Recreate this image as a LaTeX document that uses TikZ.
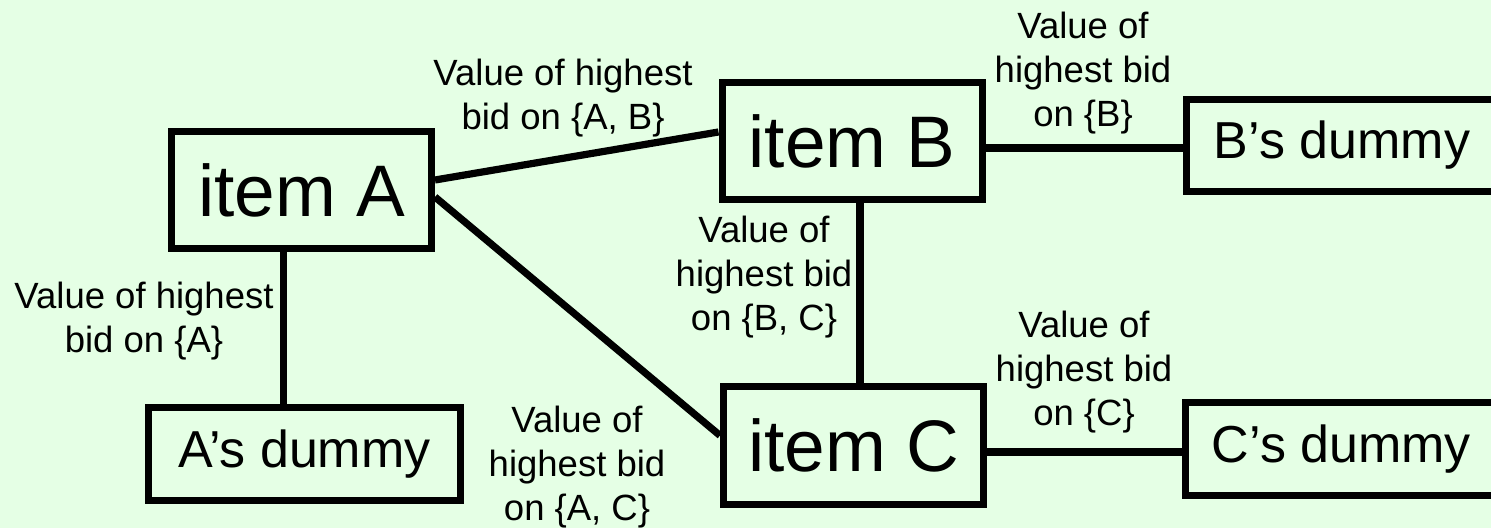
\documentclass[tikz,border=0pt]{standalone}
\usepackage{fontspec}
\setmainfont{Liberation Sans}
\usetikzlibrary{calc}
\definecolor{mygreen}{HTML}{E5FFE5}
\tikzset{
	itemnode/.style={
			rectangle,
			draw=black,
			line width=3.5pt,
			minimum width=130pt,
			minimum height=58.5pt,
			inner sep=0pt,
			font=\fontsize{36.5}{44}\selectfont
		},
	dummynode/.style={
			itemnode,
			minimum width=156pt,
			minimum height=46pt,
			font=\fontsize{26}{31}\selectfont
		},
	labelnode/.style={
			align=center,
			inner sep=0pt,
			font=\fontsize{18.25}{22}\selectfont
		},
	link/.style={
			line width=3.6pt
		}
}

\begin{document}
\begin{tikzpicture}[x=0.5pt, y=-0.5pt]
\fill[mygreen] (0,0) rectangle (1491,528);
\useasboundingbox (0,0) rectangle (1491,528);

\node[itemnode] (itemA) at (301.5,190)  { item A };
\node[itemnode] (itemB) at (852,141.5)  { item B };
\node[itemnode] (itemC) at (853.5,445.5)  { item C };
\node[dummynode] (dummyA) at (304.5,454)  { A’s dummy };
\node[dummynode] (dummyB) at (1342,145.5)  { B’s dummy };
\node[dummynode] (dummyC) at (1341.5,449)  { C’s dummy };

\node[labelnode] (labelAB) at (563,98)  { Value of highest\\bid on \{A, B\} };
\node[labelnode] (labelA) at (144,321)  { Value of highest\\bid on \{A\} };
\node[labelnode] (labelB) at (1083,73)  { Value of\\highest bid\\on \{B\} };
\node[labelnode] (labelBC) at (764,277)  { Value of\\highest bid\\on \{B, C\} };
\node[labelnode] (labelC) at (1084,372.5)  { Value of\\highest bid\\on \{C\} };
\node[labelnode] (labelAC) at (577,467.5)  { Value of\\highest bid\\on \{A, C\} };

\coordinate (footA) at ($(itemA.south)+(-18,0)$);
\coordinate (footB) at ($(itemB.south)+(8,0)$);
\coordinate (sideB) at ($(itemB.east)+(0,6.5)$);
\coordinate (sideC) at ($(itemC.east)+(0,6.5)$);

\draw[link] ($(itemA.east)+(0,-10)$) -- ($(itemB.west)+(0,-9.5)$);
\draw[link] ($(itemA.east)+(0,7)$) -- ($(itemC.west)+(0,-10)$);
\draw[link] (footA) -- (footA |- dummyA.north);
\draw[link] (footB) -- (footB |- itemC.north);
\draw[link] (sideB) -- (sideB -| dummyB.west);
\draw[link] (sideC) -- (sideC -| dummyC.west);
\end{tikzpicture}
\end{document}
